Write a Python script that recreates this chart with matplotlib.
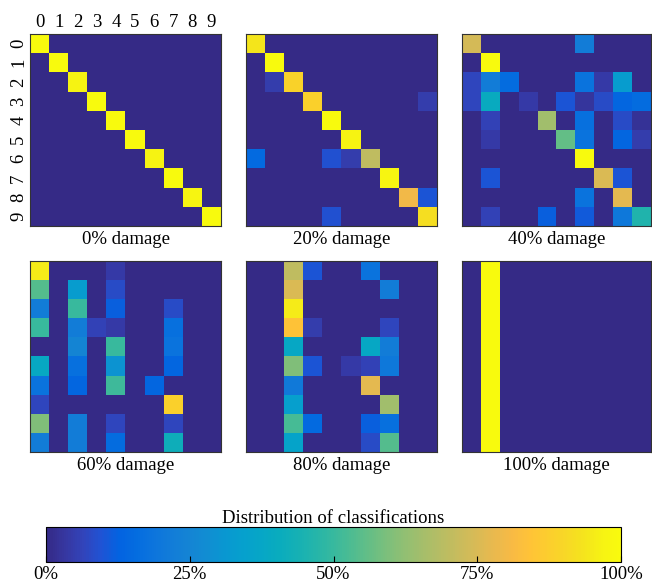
import numpy as np
import matplotlib
matplotlib.use("Agg")
import matplotlib.pyplot as plt
from matplotlib.colors import LinearSegmentedColormap
from matplotlib.cm import ScalarMappable
from matplotlib.colors import Normalize

plt.rcParams["font.family"] = ["Liberation Serif", "DejaVu Serif"]

# Parula-like colormap anchors
parula_rgb = [
    (0.2081, 0.1663, 0.5292), (0.2122, 0.2138, 0.6270), (0.1959, 0.2645, 0.7279),
    (0.1253, 0.3242, 0.8303), (0.0117, 0.3875, 0.8820), (0.0165, 0.4266, 0.8786),
    (0.0498, 0.4586, 0.8641), (0.0723, 0.4887, 0.8467), (0.0793, 0.5200, 0.8312),
    (0.0641, 0.5570, 0.8240), (0.0343, 0.5966, 0.8199), (0.0239, 0.6287, 0.8038),
    (0.0228, 0.6535, 0.7768), (0.0384, 0.6743, 0.7436), (0.0843, 0.6928, 0.7062),
    (0.1453, 0.7098, 0.6646), (0.2178, 0.7250, 0.6193), (0.3022, 0.7376, 0.5712),
    (0.3953, 0.7459, 0.5244), (0.4871, 0.7491, 0.4840), (0.5709, 0.7485, 0.4494),
    (0.6473, 0.7456, 0.4188), (0.7184, 0.7411, 0.3905), (0.7858, 0.7356, 0.3633),
    (0.8507, 0.7299, 0.3360), (0.9139, 0.7258, 0.3063), (0.9739, 0.7314, 0.2666),
    (0.9990, 0.7653, 0.2164), (0.9880, 0.8066, 0.1794), (0.9697, 0.8481, 0.1475),
    (0.9589, 0.8949, 0.1132), (0.9661, 0.9514, 0.0755), (0.9763, 0.9831, 0.0538),
]
parula = LinearSegmentedColormap.from_list("parula", parula_rgb, N=256)

labels = [str(i) for i in range(10)]
damage_levels = ["0%", "20%", "40%", "60%", "80%", "100%"]


def matrix(entries):
    m = np.zeros((10, 10))
    for (r, c), v in entries.items():
        m[r, c] = v
    return m


# Classification shares per true class (row) and predicted class (column)
dmg_0 = matrix({(0, 0): 1.00, (1, 1): 1.00, (2, 2): 0.97, (3, 3): 1.00, (4, 4): 1.00,
                (5, 5): 1.00, (6, 6): 0.97, (7, 7): 1.00, (8, 8): 0.98, (9, 9): 1.00})

dmg_20 = matrix({(0, 0): 0.94, (1, 1): 1.00, (2, 1): 0.05, (2, 2): 0.89,
                 (3, 3): 0.88, (3, 9): 0.05, (4, 4): 1.00, (5, 5): 0.97,
                 (6, 0): 0.15, (6, 4): 0.09, (6, 5): 0.05, (6, 6): 0.70,
                 (7, 7): 0.98, (8, 8): 0.80, (8, 9): 0.10, (9, 4): 0.09, (9, 9): 0.92})

dmg_40 = matrix({(0, 0): 0.74, (0, 6): 0.22,
                 (1, 1): 1.00,
                 (2, 0): 0.07, (2, 1): 0.22, (2, 2): 0.16, (2, 6): 0.18, (2, 7): 0.04, (2, 8): 0.33,
                 (3, 0): 0.07, (3, 1): 0.40, (3, 3): 0.04, (3, 5): 0.10, (3, 6): 0.03,
                 (3, 7): 0.08, (3, 8): 0.14, (3, 9): 0.16,
                 (4, 1): 0.06, (4, 4): 0.65, (4, 6): 0.17, (4, 8): 0.08, (4, 9): 0.02,
                 (5, 1): 0.04, (5, 5): 0.56, (5, 6): 0.18, (5, 8): 0.14, (5, 9): 0.05,
                 (6, 6): 1.00,
                 (7, 1): 0.10, (7, 7): 0.75, (7, 8): 0.10,
                 (8, 6): 0.18, (8, 8): 0.77,
                 (9, 1): 0.06, (9, 4): 0.12, (9, 6): 0.11, (9, 8): 0.20, (9, 9): 0.46})

dmg_60 = matrix({(0, 0): 0.95, (0, 4): 0.04,
                 (1, 0): 0.54, (1, 2): 0.33, (1, 4): 0.08,
                 (2, 0): 0.22, (2, 2): 0.50, (2, 4): 0.12, (2, 7): 0.08,
                 (3, 0): 0.50, (3, 2): 0.22, (3, 3): 0.06, (3, 4): 0.04, (3, 7): 0.17,
                 (4, 2): 0.25, (4, 4): 0.50, (4, 7): 0.18,
                 (5, 0): 0.39, (5, 2): 0.17, (5, 4): 0.30, (5, 7): 0.14,
                 (6, 0): 0.18, (6, 2): 0.14, (6, 4): 0.51, (6, 6): 0.14,
                 (7, 0): 0.07, (7, 7): 0.88,
                 (8, 0): 0.60, (8, 2): 0.22, (8, 4): 0.07, (8, 7): 0.07,
                 (9, 0): 0.22, (9, 2): 0.22, (9, 4): 0.16, (9, 7): 0.42})

dmg_80 = matrix({(0, 2): 0.70, (0, 3): 0.10, (0, 6): 0.18,
                 (1, 2): 0.75, (1, 7): 0.22,
                 (2, 2): 0.95,
                 (3, 2): 0.84, (3, 3): 0.05, (3, 7): 0.07,
                 (4, 2): 0.38, (4, 6): 0.38, (4, 7): 0.22,
                 (5, 2): 0.60, (5, 3): 0.10, (5, 5): 0.04, (5, 6): 0.06, (5, 7): 0.20,
                 (6, 2): 0.21, (6, 6): 0.77,
                 (7, 2): 0.34, (7, 7): 0.65,
                 (8, 2): 0.52, (8, 3): 0.15, (8, 6): 0.12, (8, 7): 0.17,
                 (9, 2): 0.36, (9, 6): 0.08, (9, 7): 0.54})

dmg_100 = matrix({(r, 1): 1.00 for r in range(10)})

matrices = [dmg_0, dmg_20, dmg_40, dmg_60, dmg_80, dmg_100]

W, H = 652, 584
fig = plt.figure(figsize=(W / 100, H / 100), dpi=100)

# panel boxes in pixels: left, top, right, bottom
lefts = [30, 246, 462]
rights = [221, 437, 651]
tops = [34, 261]
bottoms = [226, 452]

fs = 13.5
for k, (mat, lvl) in enumerate(zip(matrices, damage_levels)):
    r, c = divmod(k, 3)
    x0, x1 = lefts[c], rights[c]
    y0, y1 = tops[r], bottoms[r]
    ax = fig.add_axes([x0 / W, 1 - y1 / H, (x1 - x0) / W, (y1 - y0) / H])
    ax.imshow(mat, cmap=parula, vmin=0, vmax=1, aspect="auto",
              interpolation="nearest")
    for s in ax.spines.values():
        s.set_linewidth(0.8)
        s.set_color("#333333")
    if k == 0:
        ax.xaxis.tick_top()
        ax.set_xticks(range(10))
        ax.set_xticklabels(labels, fontsize=fs)
        ax.set_yticks(range(10))
        ax.set_yticklabels(labels, fontsize=fs, rotation=90, va="center")
        ax.tick_params(length=0, pad=2)
    else:
        ax.set_xticks([])
        ax.set_yticks([])
    ax.text(0.5, -0.025, f"{lvl} damage", transform=ax.transAxes,
            ha="center", va="top", fontsize=fs)

# colour bar
cax = fig.add_axes([46 / W, 1 - 562 / H, (621 - 46) / W, 35 / H])
sm = ScalarMappable(norm=Normalize(0, 100), cmap=parula)
cb = fig.colorbar(sm, cax=cax, orientation="horizontal")
cb.set_ticks([0, 25, 50, 75, 100])
cb.set_ticklabels(["0%", "25%", "50%", "75%", "100%"])
cax.tick_params(direction="in", length=4, labelsize=fs, pad=3, width=0.8)
cb.outline.set_linewidth(0.8)
cax.set_title("Distribution of classifications", fontsize=fs, pad=2)

fig.savefig("out.png", dpi=100)
